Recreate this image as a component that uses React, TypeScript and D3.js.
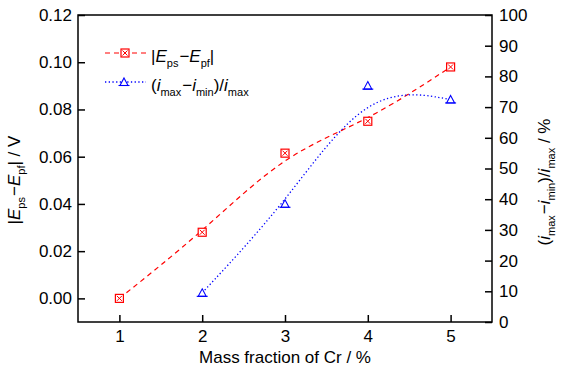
import * as d3 from "d3";
import { useEffect, useRef } from "react";

// Cr mass fraction (%)
const crFraction = [1, 2, 3, 4, 5];
// |Eps - Epf| (V)
const potentialDiff = [0.0, 0.028, 0.0615, 0.075, 0.098];
// (imax - imin)/imax (%), no value at 1 %
const currentFraction = [2, 3, 4, 5];
const currentRatio = [9.5, 38.5, 77, 72.5];

const xTicks = [1, 2, 3, 4, 5];
const leftTicks = [0, 0.02, 0.04, 0.06, 0.08, 0.1, 0.12];
const rightTicks = [0, 10, 20, 30, 40, 50, 60, 70, 80, 90, 100];

const W = 561;
const H = 372;
const FONT = "'Liberation Sans', Arial, sans-serif";
const RED = "#ff0000";
const BLUE = "#0000ff";

export default function App() {
  const gRef = useRef<SVGGElement>(null);

  useEffect(() => {
    const svg = d3.select(gRef.current);
    svg.selectAll("*").remove();

    const plot = { left: 78, right: 492, top: 15, bottom: 322 };

    const x = d3.scaleLinear().domain([0.5, 5.5]).range([plot.left, plot.right]);
    const yL = d3.scaleLinear().domain([-0.01, 0.12]).range([plot.bottom, plot.top]);
    const yR = d3.scaleLinear().domain([0, 100]).range([plot.bottom, plot.top]);

    const styleAxis = (g: d3.Selection<SVGGElement, unknown, null, undefined>) => {
      g.attr("font-size", 17).attr("font-family", FONT);
      g.select(".domain").remove();
      g.selectAll(".tick line").attr("stroke", "#000").attr("stroke-width", 1.5);
      g.selectAll(".tick text").attr("fill", "#000");
    };

    // axes, ticks inward
    svg
      .append("g")
      .attr("transform", `translate(0,${plot.bottom})`)
      .call(d3.axisBottom(x).tickValues(xTicks).tickFormat(d3.format("d")).tickSize(-7).tickPadding(8))
      .call(styleAxis);

    svg
      .append("g")
      .attr("transform", `translate(${plot.left},0)`)
      .call(d3.axisLeft(yL).tickValues(leftTicks).tickFormat(d3.format(".2f")).tickSize(-7).tickPadding(6))
      .call(styleAxis);

    svg
      .append("g")
      .attr("transform", `translate(${plot.right},0)`)
      .call(d3.axisRight(yR).tickValues(rightTicks).tickFormat(d3.format("d")).tickSize(-7).tickPadding(7))
      .call(styleAxis);

    // frame
    svg
      .append("rect")
      .attr("x", plot.left)
      .attr("y", plot.top)
      .attr("width", plot.right - plot.left)
      .attr("height", plot.bottom - plot.top)
      .attr("fill", "none")
      .attr("stroke", "#000")
      .attr("stroke-width", 1.5);

    // curves
    const redLine = d3
      .line<number>()
      .x((_, i) => x(crFraction[i]))
      .y((d) => yL(d))
      .curve(d3.curveBasis);
    const blueLine = d3
      .line<number>()
      .x((_, i) => x(currentFraction[i]))
      .y((d) => yR(d))
      .curve(d3.curveBasis);

    svg
      .append("path")
      .attr("d", redLine(potentialDiff))
      .attr("fill", "none")
      .attr("stroke", RED)
      .attr("stroke-width", 1.2)
      .attr("stroke-dasharray", "5,4");

    svg
      .append("path")
      .attr("d", blueLine(currentRatio))
      .attr("fill", "none")
      .attr("stroke", BLUE)
      .attr("stroke-width", 1.3)
      .attr("stroke-dasharray", "1.3,2.4");

    // markers
    const squareMarker = (g: d3.Selection<SVGGElement, unknown, null, undefined>) => {
      g.append("rect")
        .attr("x", -4)
        .attr("y", -4)
        .attr("width", 8)
        .attr("height", 8)
        .attr("fill", "#fff")
        .attr("stroke", RED)
        .attr("stroke-width", 1.2);
      g.append("path")
        .attr("d", "M-2.5,-2.5L2.5,2.5M-2.5,2.5L2.5,-2.5")
        .attr("stroke", RED)
        .attr("stroke-width", 1);
    };
    const triangleMarker = (g: d3.Selection<SVGGElement, unknown, null, undefined>) => {
      g.append("path")
        .attr("d", "M0,-4L4,3.5L-4,3.5Z")
        .attr("fill", "#fff")
        .attr("stroke", BLUE)
        .attr("stroke-width", 1.1);
      g.append("path")
        .attr("d", "M-5.5,3.5L5.5,3.5")
        .attr("stroke", BLUE)
        .attr("stroke-width", 1.1);
    };

    potentialDiff.forEach((v, i) => {
      svg
        .append("g")
        .attr("transform", `translate(${x(crFraction[i])},${yL(v)})`)
        .call(squareMarker);
    });
    currentRatio.forEach((v, i) => {
      svg
        .append("g")
        .attr("transform", `translate(${x(currentFraction[i])},${yR(v)})`)
        .call(triangleMarker);
    });

    // legend
    const lg = svg.append("g");
    lg.append("line")
      .attr("x1", 105).attr("x2", 146).attr("y1", 53).attr("y2", 53)
      .attr("stroke", RED).attr("stroke-width", 1.2).attr("stroke-dasharray", "5,4");
    lg.append("g").attr("transform", "translate(125,53)").call(squareMarker);
    lg.append("line")
      .attr("x1", 105).attr("x2", 146).attr("y1", 82).attr("y2", 82)
      .attr("stroke", BLUE).attr("stroke-width", 1.3).attr("stroke-dasharray", "1.3,2.4");
    lg.append("g").attr("transform", "translate(124,82)").call(triangleMarker);
  }, []);

  const sub = { fontSize: 11 } as const;

  return (
    <svg
      width={W}
      height={H}
      style={{ position: "absolute", left: 0, top: 0, background: "#fff" }}
    >
      <g ref={gRef} />
      <g fontFamily={FONT} fontSize={17} fill="#000">
        {/* legend labels */}
        <text x={151} y={62}>
          |<tspan fontStyle="italic">E</tspan>
          <tspan dy={5} style={sub}>ps</tspan>
          <tspan dy={-5} dx={1}>−</tspan>
          <tspan fontStyle="italic">E</tspan>
          <tspan dy={5} style={sub}>pf</tspan>
          <tspan dy={-5}>|</tspan>
        </text>
        <text x={151} y={91}>
          (<tspan fontStyle="italic">i</tspan>
          <tspan dy={5} style={sub}>max</tspan>
          <tspan dy={-5} dx={1}>−</tspan>
          <tspan fontStyle="italic">i</tspan>
          <tspan dy={5} style={sub}>min</tspan>
          <tspan dy={-5}>)/</tspan>
          <tspan fontStyle="italic">i</tspan>
          <tspan dy={5} style={sub}>max</tspan>
        </text>

        {/* x axis title */}
        <text x={285} y={363} textAnchor="middle">
          Mass fraction of Cr / %
        </text>

        {/* left axis title */}
        <text transform="translate(20,180) rotate(-90)" textAnchor="middle">
          |<tspan fontStyle="italic">E</tspan>
          <tspan dy={5} style={sub}>ps</tspan>
          <tspan dy={-5} dx={1}>−</tspan>
          <tspan fontStyle="italic">E</tspan>
          <tspan dy={5} style={sub}>pf</tspan>
          <tspan dy={-5}>| / V</tspan>
        </text>

        {/* right axis title */}
        <text transform="translate(550,182) rotate(-90)" textAnchor="middle">
          (<tspan fontStyle="italic">i</tspan>
          <tspan dy={5} style={sub}>max</tspan>
          <tspan dy={-5} dx={1}>−</tspan>
          <tspan fontStyle="italic">i</tspan>
          <tspan dy={5} style={sub}>min</tspan>
          <tspan dy={-5}>)/</tspan>
          <tspan fontStyle="italic">i</tspan>
          <tspan dy={5} style={sub}>max</tspan>
          <tspan dy={-5}>  / %</tspan>
        </text>
      </g>
    </svg>
  );
}
